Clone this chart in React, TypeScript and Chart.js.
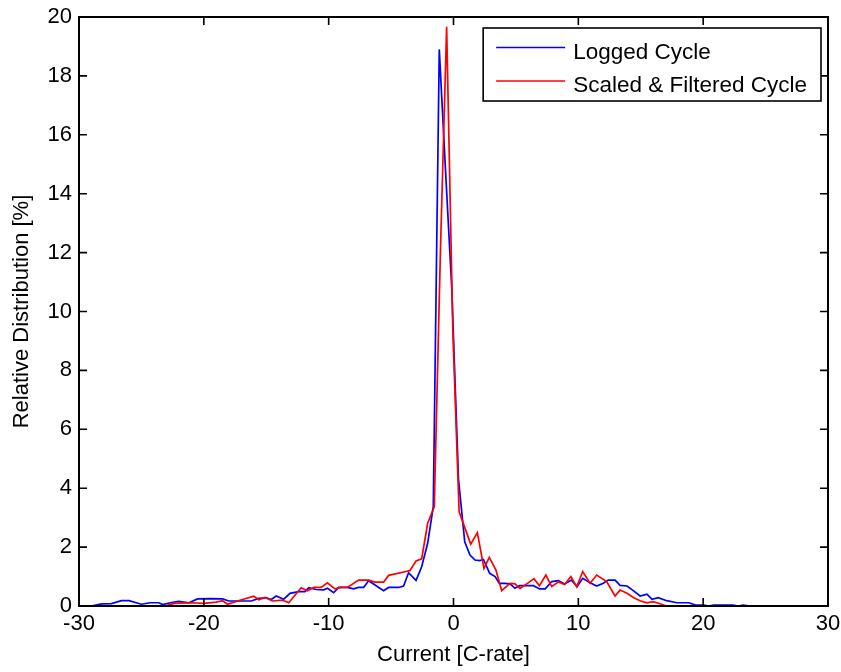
import React, { useEffect, useRef } from 'react';
import { Chart, registerables } from 'chart.js';

Chart.register(...registerables);

const FONT = "'Liberation Sans', Arial, Helvetica, sans-serif";

// Logged cycle: [current C-rate, relative distribution %]
const loggedCycle: [number, number][] = [
  [-29.0, 0], [-28.2, 0.07], [-27.4, 0.08], [-26.6, 0.18], [-26.0, 0.18], [-25.0, 0.06],
  [-24.3, 0.11], [-23.6, 0.11], [-23.3, 0.05], [-22.6, 0.12], [-22.0, 0.16], [-21.2, 0.11],
  [-20.5, 0.24], [-19.5, 0.25], [-18.5, 0.24], [-18.0, 0.17], [-17.0, 0.17], [-16.2, 0.17],
  [-15.6, 0.26], [-15.0, 0.28], [-14.6, 0.22], [-14.2, 0.34], [-13.6, 0.23], [-13.1, 0.43],
  [-12.4, 0.49], [-11.9, 0.49], [-11.6, 0.62], [-11.0, 0.56], [-10.4, 0.55], [-10.1, 0.6],
  [-9.6, 0.45], [-9.2, 0.63], [-8.5, 0.63], [-8.0, 0.58], [-7.6, 0.63], [-7.2, 0.63],
  [-6.8, 0.86], [-5.6, 0.52], [-5.2, 0.63], [-4.4, 0.63], [-4.0, 0.68], [-3.6, 1.13],
  [-3.0, 0.87], [-2.55, 1.33], [-2.07, 2.13], [-1.62, 3.37], [-1.14, 18.9], [-0.64, 14.8],
  [-0.14, 10.8], [0.4, 4.3], [0.9, 2.18], [1.32, 1.73], [1.72, 1.56], [2.1, 1.54],
  [2.4, 1.58], [2.9, 1.11], [3.33, 1.0], [3.67, 0.77], [4.1, 0.77], [4.53, 0.75],
  [4.93, 0.6], [5.3, 0.69], [6.4, 0.69], [6.9, 0.58], [7.35, 0.58], [7.87, 0.83],
  [8.4, 0.86], [8.9, 0.75], [9.45, 0.88], [9.9, 0.66], [10.35, 0.94], [10.94, 0.79],
  [11.47, 0.68], [12.0, 0.77], [12.4, 0.88], [12.95, 0.88], [13.34, 0.7], [13.9, 0.68],
  [14.4, 0.52], [14.95, 0.34], [15.5, 0.4], [15.9, 0.23], [16.4, 0.28], [17.08, 0.18],
  [17.9, 0.11], [18.85, 0.11], [19.4, 0.03], [20.05, 0.03], [20.45, 0], [20.85, 0.03],
  [22.4, 0.03], [22.8, 0], [23.2, 0.03], [23.75, 0],
];

// Scaled & filtered cycle: [current C-rate, relative distribution %]
const filteredCycle: [number, number][] = [
  [-23.1, 0], [-22.4, 0.09], [-21.0, 0.11], [-20.0, 0.09], [-19.0, 0.13], [-18.5, 0.18],
  [-18.1, 0.06], [-17.3, 0.17], [-16.0, 0.33], [-15.6, 0.21], [-15.1, 0.29], [-14.5, 0.17],
  [-13.7, 0.2], [-13.2, 0.11], [-12.2, 0.62], [-11.7, 0.52], [-11.2, 0.63], [-10.6, 0.63],
  [-10.1, 0.79], [-9.5, 0.58], [-9.0, 0.63], [-8.5, 0.63], [-7.6, 0.88], [-6.8, 0.88],
  [-6.3, 0.81], [-5.6, 0.81], [-5.2, 1.04], [-3.8, 1.17], [-3.5, 1.2], [-3.0, 1.53],
  [-2.55, 1.6], [-2.07, 2.81], [-1.54, 3.37], [-1.05, 12.0], [-0.55, 19.67], [-0.05, 9.3],
  [0.45, 3.2], [1.38, 2.1], [1.91, 2.49], [2.44, 1.28], [2.87, 1.65], [3.4, 1.22],
  [3.86, 0.52], [4.53, 0.77], [4.93, 0.75], [5.33, 0.6], [5.87, 0.75], [6.45, 0.93],
  [6.88, 0.69], [7.4, 1.05], [7.87, 0.66], [8.4, 0.82], [8.9, 0.73], [9.4, 1.0],
  [9.87, 0.65], [10.35, 1.17], [10.94, 0.77], [11.47, 1.05], [12.27, 0.83], [12.94, 0.34],
  [13.34, 0.54], [13.9, 0.43], [14.4, 0.29], [14.95, 0.18], [15.5, 0.11], [16.0, 0.15],
  [16.6, 0.07], [17.08, 0], [17.9, 0],
];

const seriesLabels = ['Logged Cycle', 'Scaled & Filtered Cycle'];
const seriesColors = ['#0000ff', '#ff0000'];
const xTickValues = [-30, -20, -10, 0, 10, 20, 30];
const yTickValues = [0, 2, 4, 6, 8, 10, 12, 14, 16, 18, 20];
const xTitle = 'Current [C-rate]';
const yTitle = 'Relative Distribution [%]';

const TICK_LEN = 8;

const framePlugin = {
  id: 'matlabFrame',
  afterDraw(chart: any) {
    const { ctx, chartArea, scales } = chart;
    const { left, right, top, bottom } = chartArea;
    const xs = scales.x;
    const ys = scales.y;
    ctx.save();
    ctx.strokeStyle = '#000';
    ctx.lineWidth = 1.6;
    ctx.beginPath();
    xTickValues.forEach((v) => {
      const px = xs.getPixelForValue(v);
      ctx.moveTo(px, bottom);
      ctx.lineTo(px, bottom - TICK_LEN);
      ctx.moveTo(px, top);
      ctx.lineTo(px, top + TICK_LEN);
    });
    yTickValues.forEach((v) => {
      const py = ys.getPixelForValue(v);
      ctx.moveTo(left, py);
      ctx.lineTo(left + TICK_LEN, py);
      ctx.moveTo(right, py);
      ctx.lineTo(right - TICK_LEN, py);
    });
    ctx.stroke();
    ctx.lineWidth = 2;
    ctx.strokeRect(left, top, right - left, bottom - top);

    // legend
    ctx.font = `22.5px ${FONT}`;
    const widths = seriesLabels.map((l) => ctx.measureText(l).width);
    const boxW = 90 + Math.max(...widths) + 14;
    const boxH = 73;
    const bx = right - 7 - boxW;
    const by = top + 11;
    ctx.fillStyle = '#fff';
    ctx.fillRect(bx, by, boxW, boxH);
    ctx.lineWidth = 1.6;
    ctx.strokeStyle = '#000';
    ctx.strokeRect(bx, by, boxW, boxH);
    seriesLabels.forEach((label, i) => {
      const ly = by + 19.5 + i * 33.5;
      ctx.strokeStyle = seriesColors[i];
      ctx.lineWidth = 1.7;
      ctx.beginPath();
      ctx.moveTo(bx + 13, ly);
      ctx.lineTo(bx + 82, ly);
      ctx.stroke();
      ctx.fillStyle = '#000';
      ctx.textAlign = 'left';
      ctx.textBaseline = 'alphabetic';
      ctx.fillText(label, bx + 90, ly + 11);
    });
    ctx.restore();
  },
};

export default function App() {
  const ref = useRef<HTMLCanvasElement>(null);
  useEffect(() => {
    if (!ref.current) return;
    const tickFont = { family: FONT, size: 22 };
    const chart = new Chart(ref.current, {
      type: 'line',
      data: {
        datasets: [
          {
            label: seriesLabels[0],
            data: loggedCycle.map(([x, y]) => ({ x, y })),
            borderColor: seriesColors[0],
            backgroundColor: seriesColors[0],
            borderWidth: 1.7,
            pointRadius: 0,
            tension: 0,
            fill: false,
            order: 2,
          },
          {
            label: seriesLabels[1],
            data: filteredCycle.map(([x, y]) => ({ x, y })),
            borderColor: seriesColors[1],
            backgroundColor: seriesColors[1],
            borderWidth: 1.7,
            pointRadius: 0,
            tension: 0,
            fill: false,
            order: 1,
          },
        ],
      },
      options: {
        responsive: false,
        animation: false,
        devicePixelRatio: 1,
        layout: { padding: { left: 0, top: 17, right: 13, bottom: 0 } },
        plugins: { legend: { display: false }, tooltip: { enabled: false } },
        scales: {
          x: {
            type: 'linear',
            min: -30,
            max: 30,
            ticks: { stepSize: 10, color: '#000', font: tickFont, padding: 5, maxRotation: 0, autoSkip: false },
            grid: { display: false, drawTicks: false },
            border: { display: false },
            title: { display: true, text: xTitle, color: '#000', font: tickFont, padding: { top: 0, bottom: 4 } },
            afterFit: (s: any) => {
              s.height = 66;
              s.paddingLeft = 0;
              s.paddingRight = 0;
            },
          },
          y: {
            type: 'linear',
            min: 0,
            max: 20,
            ticks: { stepSize: 2, color: '#000', font: tickFont, padding: 7, autoSkip: false },
            grid: { display: false, drawTicks: false },
            border: { display: false },
            title: { display: true, text: yTitle, color: '#000', font: tickFont, padding: { top: 9, bottom: 0 } },
            afterFit: (s: any) => {
              s.width = 79;
              s.paddingTop = 0;
              s.paddingBottom = 0;
            },
          },
        },
      },
      plugins: [framePlugin],
    } as any);
    return () => chart.destroy();
  }, []);
  return (
    <div style={{ position: 'fixed', left: 0, top: 0, width: 841, height: 672, background: '#fff' }}>
      <canvas ref={ref} width={841} height={672} style={{ display: 'block' }} />
    </div>
  );
}
